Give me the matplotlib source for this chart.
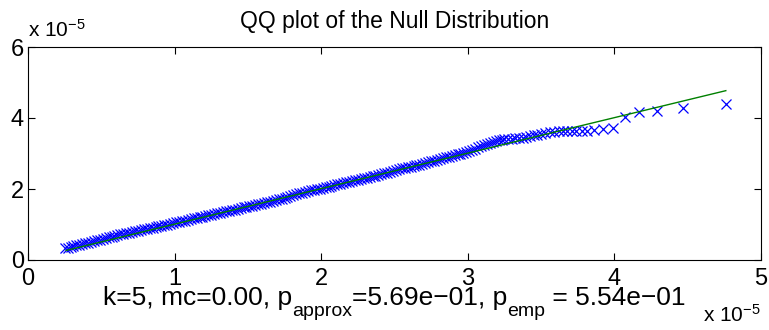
#!/usr/bin/env python3
"""QQ plot of the null distribution, MATLAB-style layout."""

import matplotlib

matplotlib.use("Agg")
import matplotlib.pyplot as plt

plt.rcParams["font.family"] = ["Liberation Sans", "DejaVu Sans"]
plt.rcParams["mathtext.fontset"] = "custom"
plt.rcParams["mathtext.rm"] = "Liberation Sans"
plt.rcParams["mathtext.it"] = "Liberation Sans"

# theoretical quantiles (x 1e-5)
x_quant = [
    0.25, 0.27, 0.29, 0.31, 0.33, 0.35, 0.37, 0.39, 0.41, 0.43, 0.45, 0.47, 0.49,
    0.51, 0.53, 0.55, 0.57, 0.59, 0.61, 0.63, 0.65, 0.67, 0.69, 0.71, 0.73, 0.75,
    0.77, 0.79, 0.81, 0.83, 0.85, 0.87, 0.89, 0.91, 0.93, 0.95, 0.97, 0.99,
    1.01, 1.03, 1.05, 1.07, 1.09, 1.11, 1.13, 1.15, 1.17, 1.19, 1.21, 1.23, 1.25,
    1.27, 1.29, 1.31, 1.33, 1.35, 1.37, 1.39, 1.41, 1.43, 1.45, 1.47, 1.49,
    1.51, 1.53, 1.55, 1.57, 1.59, 1.61, 1.63, 1.65, 1.67, 1.69, 1.71, 1.73, 1.75,
    1.77, 1.79, 1.81, 1.83, 1.85, 1.87, 1.89, 1.91, 1.93, 1.95, 1.97, 1.99,
    2.01, 2.03, 2.05, 2.07, 2.09, 2.11, 2.13, 2.15, 2.17, 2.19, 2.21, 2.23, 2.25,
    2.27, 2.29, 2.31, 2.33, 2.35, 2.37, 2.39, 2.41, 2.43, 2.45, 2.47, 2.49,
    2.51, 2.53, 2.55, 2.57, 2.59, 2.61, 2.63, 2.65, 2.67, 2.69, 2.71, 2.73, 2.75,
    2.77, 2.79, 2.81, 2.83, 2.85, 2.87, 2.89, 2.91, 2.93, 2.95, 2.97, 2.99,
    3.01, 3.03, 3.05, 3.07, 3.09, 3.11, 3.13, 3.15, 3.17, 3.19, 3.21, 3.23, 3.25,
    3.275, 3.30, 3.325, 3.35, 3.375, 3.40, 3.425, 3.45, 3.475, 3.50, 3.53, 3.56,
    3.59, 3.62, 3.65, 3.68, 3.71, 3.74, 3.78,
    3.815, 3.86, 3.92, 3.99, 4.07, 4.17, 4.29, 4.47, 4.76,
]

# sorted empirical values (x 1e-5)
y_emp = [
    0.33, 0.35, 0.37, 0.39, 0.41, 0.43, 0.45, 0.47, 0.49, 0.51, 0.53, 0.55, 0.57,
    0.59, 0.61, 0.64, 0.66, 0.68, 0.70, 0.72, 0.74, 0.75, 0.77, 0.79, 0.81, 0.83,
    0.84, 0.86, 0.88, 0.90, 0.91, 0.93, 0.95, 0.97, 0.99, 1.00, 1.02, 1.04,
    1.06, 1.08, 1.10, 1.11, 1.13, 1.15, 1.17, 1.19, 1.21, 1.22, 1.24, 1.26, 1.28,
    1.30, 1.32, 1.33, 1.35, 1.37, 1.39, 1.41, 1.42, 1.44, 1.46, 1.48, 1.50,
    1.51, 1.53, 1.55, 1.57, 1.59, 1.60, 1.62, 1.64, 1.67, 1.69, 1.71, 1.73, 1.75,
    1.78, 1.80, 1.82, 1.85, 1.88, 1.90, 1.92, 1.94, 1.96, 1.97, 1.99, 2.01,
    2.03, 2.05, 2.07, 2.09, 2.11, 2.13, 2.15, 2.17, 2.19, 2.21, 2.22, 2.24, 2.26,
    2.28, 2.30, 2.32, 2.34, 2.36, 2.38, 2.40, 2.42, 2.44, 2.46, 2.48, 2.50,
    2.53, 2.55, 2.58, 2.60, 2.62, 2.63, 2.65, 2.67, 2.69, 2.71, 2.73, 2.76, 2.78,
    2.80, 2.82, 2.84, 2.87, 2.89, 2.91, 2.93, 2.96, 2.98, 3.00, 3.02, 3.05,
    3.08, 3.11, 3.14, 3.17, 3.20, 3.24, 3.27, 3.30, 3.33, 3.35, 3.37, 3.39, 3.40,
    3.41, 3.42, 3.43, 3.44, 3.45, 3.46, 3.48, 3.51, 3.53, 3.55, 3.58, 3.60,
    3.61, 3.62, 3.62, 3.62, 3.62, 3.63, 3.63,
    3.63, 3.65, 3.70, 3.71, 4.04, 4.16, 4.21, 4.27, 4.39,
]

# reference line end points
line_x = [0.26, 4.76]
line_y = [0.27, 4.77]

x_ticks = [0, 1, 2, 3, 4, 5]
y_ticks = [0, 2, 4, 6]

title = "QQ plot of the Null Distribution"
# x label pieces: (text, is_subscript)
xlabel_parts = [
    ("k=5, mc=0.00, p", False),
    ("approx", True),
    ("=5.69e\u221201, p", False),
    ("emp", True),
    (" = 5.54e\u221201", False),
]
multiplier = "x 10$^{\u22125}$"


def draw_xlabel(fig, center_px: float, baseline_px: float) -> None:
    """Lay the label out piece by piece so the subscripts sit low, as in MATLAB."""
    renderer = fig.canvas.get_renderer()
    W, H = fig.bbox.width, fig.bbox.height
    texts = []
    for part, sub in xlabel_parts:
        t = fig.text(0, 0, part, fontsize=14 if sub else 19, ha="left",
                     va="baseline")
        texts.append((t, sub))
    widths = [t.get_window_extent(renderer).width for t, _ in texts]
    x = center_px - sum(widths) / 2
    for (t, sub), w in zip(texts, widths):
        y = baseline_px - (11 if sub else 0)
        t.set_position((x / W, y / H))
        x += w


def main() -> None:
    fig = plt.figure(figsize=(7.69, 3.30), dpi=100)
    ax = fig.add_axes([28 / 769, 70 / 330, 733 / 769, 213 / 330])

    ax.plot(x_quant, y_emp, linestyle="none", marker="x", markersize=7.5,
            markeredgewidth=0.9, color=(0, 0, 1))
    ax.plot(line_x, line_y, color=(0, 0.5, 0), linewidth=1.0)

    ax.set_xlim(0, 5)
    ax.set_ylim(0, 6)
    ax.set_xticks(x_ticks)
    ax.set_yticks(y_ticks)
    ax.tick_params(direction="in", top=True, right=True, length=5, width=0.8,
                   labelsize=17, colors="black")
    ax.tick_params(axis="x", pad=6)
    ax.tick_params(axis="y", pad=3)
    for spine in ax.spines.values():
        spine.set_linewidth(0.8)

    ax.set_title(title, fontsize=16.5, pad=14)

    # baseline in pixels from the bottom of the figure
    draw_xlabel(fig, 394.5, 25)

    # MATLAB style exponent labels
    fig.text(28 / 769, 293 / 330, multiplier, fontsize=15, ha="left",
             va="baseline")
    fig.text(761 / 769, 8 / 330, multiplier, fontsize=15, ha="right",
             va="baseline")

    fig.savefig("out.png", dpi=100)
    plt.close(fig)


if __name__ == "__main__":
    main()
